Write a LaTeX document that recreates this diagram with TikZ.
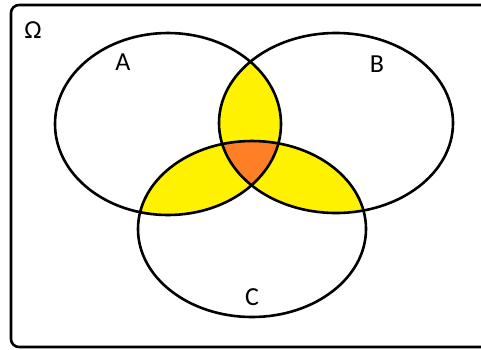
\documentclass[tikz,border=0pt]{standalone}
\usepackage{fontspec}
\setmainfont{Carlito}
\definecolor{jaune}{RGB}{255,242,0}
\definecolor{orangeV}{RGB}{255,127,39}
\begin{document}
\begin{tikzpicture}[x=1pt,y=-1pt,line width=2.6pt,
  etiquette/.style={anchor=base,inner sep=0pt,font=\fontsize{26}{30}\selectfont}]

\clip (0,0) rectangle (481,349);

% Les trois ensembles
\def\ensA{(168,124) ellipse [x radius=113, y radius=91]}
\def\ensB{(336,123) ellipse [x radius=117, y radius=90]}
\def\ensC{(252,229) ellipse [x radius=114, y radius=88]}

% Intersections deux a deux
\begin{scope}
\clip \ensA;
\fill[jaune] \ensB;
\fill[jaune] \ensC;
\end{scope}
\begin{scope}
\clip \ensB;
\fill[jaune] \ensC;
\end{scope}

% Intersection des trois
\begin{scope}
\clip \ensA;
\clip \ensB;
\fill[orangeV] \ensC;
\end{scope}

\draw \ensA;
\draw \ensB;
\draw \ensC;

% Univers
\draw[rounded corners=8pt] (11,5) rectangle (500,347);

\node[etiquette] (omega) at (33,38) {Ω};
\node[etiquette] (A) at (123,70) {A};
\node[etiquette] (B) at (377,72) {B};
\node[etiquette] (C) at (252,305) {C};

\end{tikzpicture}
\end{document}
